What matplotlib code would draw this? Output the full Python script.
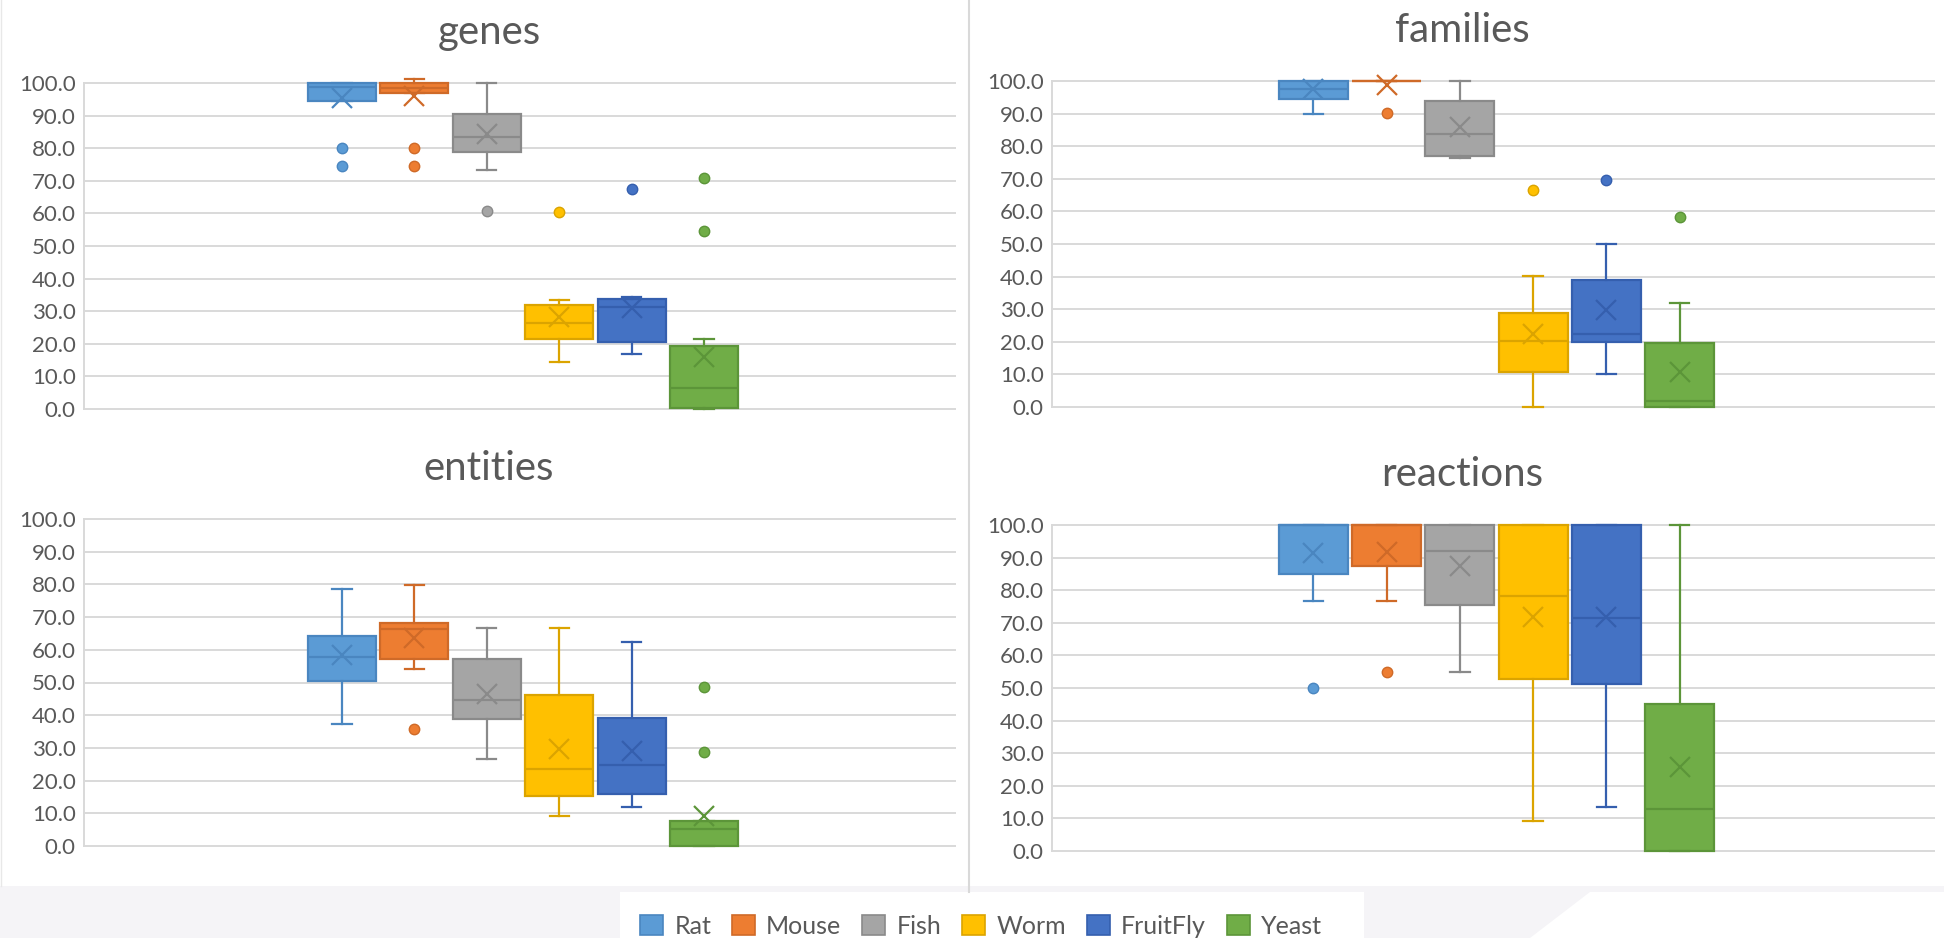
import matplotlib
matplotlib.use("Agg")
import matplotlib.pyplot as plt
from matplotlib.patches import Patch, Rectangle, Polygon
from matplotlib.lines import Line2D

plt.rcParams["font.family"] = ["Lato", "DejaVu Sans"]

species = ["Rat", "Mouse", "Fish", "Worm", "FruitFly", "Yeast"]
colors = ["#5B9BD5", "#ED7D31", "#A5A5A5", "#FFC000", "#4472C4", "#70AD47"]
edges = ["#4A86C0", "#CF6A28", "#8A8A8A", "#DBA400", "#355FAE", "#5C9539"]

# genes
genes_lo = [94.5, 97.0, 73.2, 14.4, 17.0, 0.0]
genes_q1 = [94.5, 97.0, 78.8, 21.4, 20.4, 0.3]
genes_med = [98.8, 98.6, 83.3, 26.3, 31.2, 6.4]
genes_q3 = [100.0, 100.0, 90.4, 31.9, 33.8, 19.4]
genes_hi = [100.0, 101.2, 100.0, 33.3, 34.5, 21.4]
genes_mean = [95.5, 96.0, 84.3, 28.2, 30.9, 15.8]
genes_out = [[80.0, 74.5], [80.0, 74.5], [60.8], [60.4], [67.4], [71.0, 54.7]]

# families
fam_lo = [90.0, 100.0, 76.3, 0.0, 10.1, 0.0]
fam_q1 = [94.6, 100.0, 77.0, 10.7, 20.0, 0.0]
fam_med = [97.4, 100.0, 83.7, 20.2, 22.3, 1.8]
fam_q3 = [100.0, 100.0, 93.9, 28.9, 39.1, 19.7]
fam_hi = [100.0, 100.0, 100.0, 40.2, 50.0, 31.9]
fam_mean = [97.4, 98.8, 86.0, 22.3, 29.9, 10.7]
fam_out = [[], [90.1], [], [66.6], [69.6], [58.3]]

# entities
ent_lo = [37.2, 54.0, 26.7, 9.3, 11.9, 0.0]
ent_q1 = [50.4, 57.2, 38.7, 15.2, 15.8, 0.0]
ent_med = [57.9, 66.3, 44.8, 23.4, 24.7, 5.1]
ent_q3 = [64.2, 68.1, 57.1, 46.1, 39.2, 7.7]
ent_hi = [78.5, 79.8, 66.6, 66.6, 62.3, 7.7]
ent_mean = [58.4, 63.5, 46.4, 29.8, 29.1, 9.3]
ent_out = [[], [35.9], [], [], [], [48.7, 28.6]]

# reactions
rxn_lo = [76.7, 76.7, 54.9, 9.3, 13.6, 0.0]
rxn_q1 = [84.9, 87.5, 75.6, 52.7, 51.2, 0.0]
rxn_med = [100.0, 100.0, 92.1, 78.2, 71.6, 12.9]
rxn_q3 = [100.0, 100.0, 100.0, 100.0, 100.0, 45.1]
rxn_hi = [100.0, 100.0, 100.0, 100.0, 100.0, 100.0]
rxn_mean = [91.3, 91.8, 87.4, 71.7, 71.7, 25.9]
rxn_out = [[50.0], [54.9], [], [], [], []]

yticks = [0, 10, 20, 30, 40, 50, 60, 70, 80, 90, 100]
ytick_labels = [f"{v:.1f}" for v in yticks]

GRID = "#D9D9D9"
TEXT = "#595959"

fig = plt.figure(figsize=(19.44, 9.38), dpi=100)

# backdrop: grey strip at the bottom with the white legend area
fig.patches.append(Rectangle((0, 0), 1, 52 / 938, transform=fig.transFigure,
                             facecolor="#F5F4F7", edgecolor="none", zorder=0))
fig.patches.append(Rectangle((620 / 1944, 0), 744 / 1944, 46 / 938, transform=fig.transFigure,
                             facecolor="white", edgecolor="none", zorder=0))
fig.patches.append(Polygon([(1590 / 1944, 46 / 938), (1, 46 / 938), (1, 0), (1530 / 1944, 0)],
                           closed=True, transform=fig.transFigure,
                           facecolor="white", edgecolor="none", zorder=0))
fig.lines.append(Line2D([969 / 1944, 969 / 1944], [46 / 938, 1], transform=fig.transFigure,
                        color=GRID, linewidth=1.5))
fig.lines.append(Line2D([1 / 1944, 1 / 1944], [52 / 938, 1], transform=fig.transFigure,
                        color="#E8E8E8", linewidth=1.0))

positions = [0.504 + (i - 2.5) * 0.0831 for i in range(6)]
box_w = 0.078
cap_w = 0.022


def draw_panel(rect, title, lo, q1, med, q3, hi, mean, out):
    ax = fig.add_axes(rect)
    ax.set_xlim(0, 1)
    ax.set_ylim(0, 100)
    for i in range(6):
        stats = [dict(whislo=lo[i], q1=q1[i], med=med[i], q3=q3[i],
                      whishi=hi[i], mean=mean[i], fliers=out[i])]
        art = ax.bxp(stats, positions=[positions[i]], widths=[box_w], capwidths=[cap_w],
                     patch_artist=True, showmeans=True, manage_ticks=False,
                     boxprops=dict(facecolor=colors[i], edgecolor=edges[i], linewidth=1.6),
                     medianprops=dict(color=edges[i], linewidth=1.6),
                     whiskerprops=dict(color=edges[i], linewidth=1.6),
                     capprops=dict(color=edges[i], linewidth=1.6),
                     flierprops=dict(marker="o", markerfacecolor=colors[i],
                                     markeredgecolor=edges[i], markersize=7.5),
                     meanprops=dict(marker="x", markeredgecolor=edges[i],
                                    markersize=14, markeredgewidth=1.6))
        for group in art.values():
            for a in group:
                a.set_clip_on(False)
    ax.set_yticks(yticks)
    ax.set_yticklabels(ytick_labels)
    ax.set_xticks([])
    ax.tick_params(axis="y", length=0, pad=6, labelsize=16, labelcolor=TEXT)
    ax.yaxis.grid(True, color=GRID, linewidth=1.4)
    for gl in ax.get_ygridlines():
        gl.set_clip_on(False)
    ax.set_axisbelow(True)
    for side in ["top", "right", "bottom"]:
        ax.spines[side].set_visible(False)
    ax.spines["left"].set_color(GRID)
    ax.spines["left"].set_linewidth(1.4)
    ax.text(0.465, 1.12, title, transform=ax.transAxes, ha="center", va="baseline",
            fontsize=29, color=TEXT)
    return ax


draw_panel([84 / 1944, 529 / 938, 871 / 1944, 326 / 938], "genes",
           genes_lo, genes_q1, genes_med, genes_q3, genes_hi, genes_mean, genes_out)
draw_panel([1052 / 1944, 531 / 938, 882 / 1944, 326 / 938], "families",
           fam_lo, fam_q1, fam_med, fam_q3, fam_hi, fam_mean, fam_out)
draw_panel([84 / 1944, 92 / 938, 871 / 1944, 327 / 938], "entities",
           ent_lo, ent_q1, ent_med, ent_q3, ent_hi, ent_mean, ent_out)
draw_panel([1052 / 1944, 87 / 938, 882 / 1944, 326 / 938], "reactions",
           rxn_lo, rxn_q1, rxn_med, rxn_q3, rxn_hi, rxn_mean, rxn_out)

handles = [Patch(facecolor=c, edgecolor=e, linewidth=1.2) for c, e in zip(colors, edges)]
fig.legend(handles, species, loc="center", bbox_to_anchor=(981 / 1944, 12 / 938),
           ncol=6, frameon=False, fontsize=18, labelcolor=TEXT,
           handlelength=0.92, handleheight=0.9, handletextpad=0.44, columnspacing=0.84)

fig.savefig("out.png", dpi=100, facecolor="white")
